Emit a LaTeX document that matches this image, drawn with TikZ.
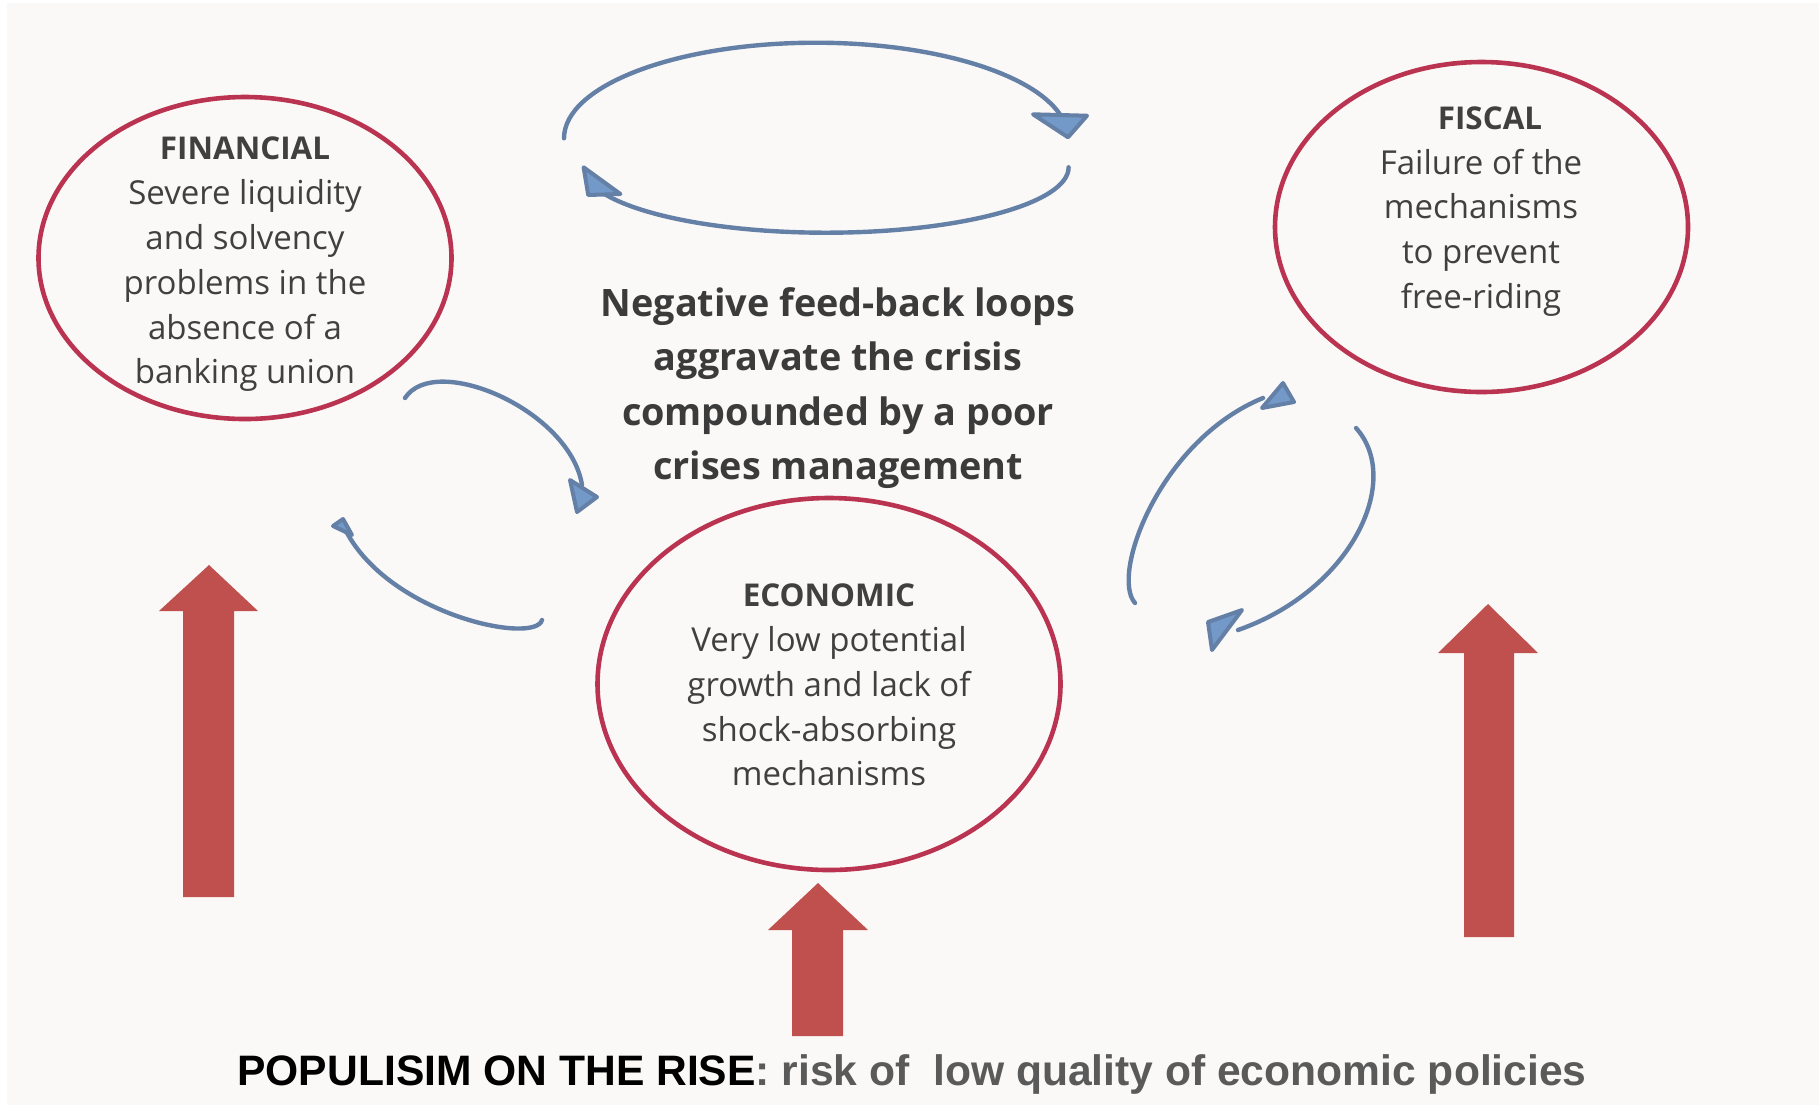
\documentclass[tikz,border=0pt]{standalone}
\usepackage{fontspec}
\setmainfont{Open Sans}
\newfontfamily\arialf{Liberation Sans}
\usetikzlibrary{shapes.geometric}
\definecolor{bgc}{HTML}{FAF9F7}
\definecolor{ellc}{HTML}{BA3452}
\definecolor{bstroke}{HTML}{6580A6}
\definecolor{bfill}{HTML}{7399C8}
\definecolor{redarr}{HTML}{C0504D}
\definecolor{txt}{HTML}{404040}
\definecolor{ctxt}{HTML}{3B3B3B}
\definecolor{gtxt}{HTML}{5A5A5A}
\newcommand{\hd}[1]{{\bfseries\fontsize{15.7}{22.4}\selectfont #1}}
\begin{document}
\begin{tikzpicture}[x=0.5pt,y=-0.5pt,
 ell/.style={draw=ellc,line width=2.3pt,ellipse,inner sep=0pt},
 loopline/.style={draw=bstroke,line width=2.2pt,line cap=round},
 tri/.style={draw=bstroke,fill=bfill,line width=2pt,line join=round},
 uparrow/.style={fill=redarr},
 body/.style={align=center,text=txt,inner sep=0pt,font=\fontsize{16.5}{22.4}\selectfont}]
\useasboundingbox (0,0) rectangle (1819,1105);
\fill[white] (0,0) rectangle (1819,1105);
\fill[bgc] (7,3) rectangle (1819,1105);

% ellipses
\node[ell,minimum width=206.5pt,minimum height=161pt] (fin) at (245,258) {};
\node[ell,minimum width=206.5pt,minimum height=165pt] (fis) at (1481.5,227) {};
\node[ell,minimum width=231.5pt,minimum height=186pt] (eco) at (829,684) {};

% texts
\node[body] (fintxt) at (245,264.5) {\hd{FINANCIAL}\\Severe liquidity\\and solvency\\problems in the\\absence of a\\banking union};
\node[body] (fistxt) at (1481,211.5) {\hd{\hspace*{9pt}FISCAL}\\Failure of the\\mechanisms\\to prevent\\free-riding};
\node[body] (ecotxt) at (829,685) {\hd{ECONOMIC}\\Very low potential\\growth and lack of\\shock-absorbing\\mechanisms};
\node[align=center,text=ctxt,inner sep=0pt,font=\bfseries\fontsize{18.9}{27.2}\selectfont] (center) at (838,388)
 {Negative feed-back loops\\aggravate the crisis\\compounded by a poor\\crises management};

% top loop
\draw[loopline] (564,138.3) arc[start angle=180,end angle=14.5,x radius=126pt,y radius=47.8pt];
\filldraw[tri] (1033,114.3) -- (1087,115.7) -- (1068,137.3) -- cycle;
\draw[loopline] (1068.6,167.3) arc[start angle=0,end angle=-156,x radius=121.3pt,y radius=32.7pt];
\filldraw[tri] (583.6,167.3) -- (588.2,195) -- (620.4,194) -- cycle;

% left loop
\draw[loopline] (405,398) .. controls (435,352) and (570,410) .. (582,485);
\filldraw[tri] (570,480) -- (577,512) -- (597,497) -- cycle;
\draw[loopline] (542,620) .. controls (535,645) and (390,615) .. (346,531);
\filldraw[tri] (333,526) -- (343,519) -- (352,535) -- cycle;

% right loop
\draw[loopline] (1135,603) .. controls (1110,575) and (1160,440) .. (1263,398);
\filldraw[tri] (1262,408) -- (1283,383) -- (1294,402) -- cycle;
\draw[loopline] (1356,428) .. controls (1403,480) and (1352,590) .. (1238,630);
\filldraw[tri] (1208,622) -- (1242,610) -- (1212,650) -- cycle;

% red arrows
\fill[uparrow] (183,897) -- (183,611) -- (159,611) -- (209,565) -- (258,611) -- (234,611) -- (234,897) -- cycle;
\fill[uparrow] (792,1036) -- (792,930) -- (768,930) -- (818,883) -- (868,930) -- (843,930) -- (843,1036) -- cycle;
\fill[uparrow] (1464,937) -- (1464,653) -- (1438,653) -- (1488,604) -- (1538,653) -- (1514,653) -- (1514,937) -- cycle;

% bottom text
\node[anchor=base,inner sep=0pt,font=\arialf\bfseries\fontsize{21.3}{26}\selectfont] (pop) at (912,1085)
 {\textcolor{black}{POPULISIM ON THE RISE}\textcolor{gtxt}{: risk of\ \ low quality of economic policies}};
\end{tikzpicture}
\end{document}
